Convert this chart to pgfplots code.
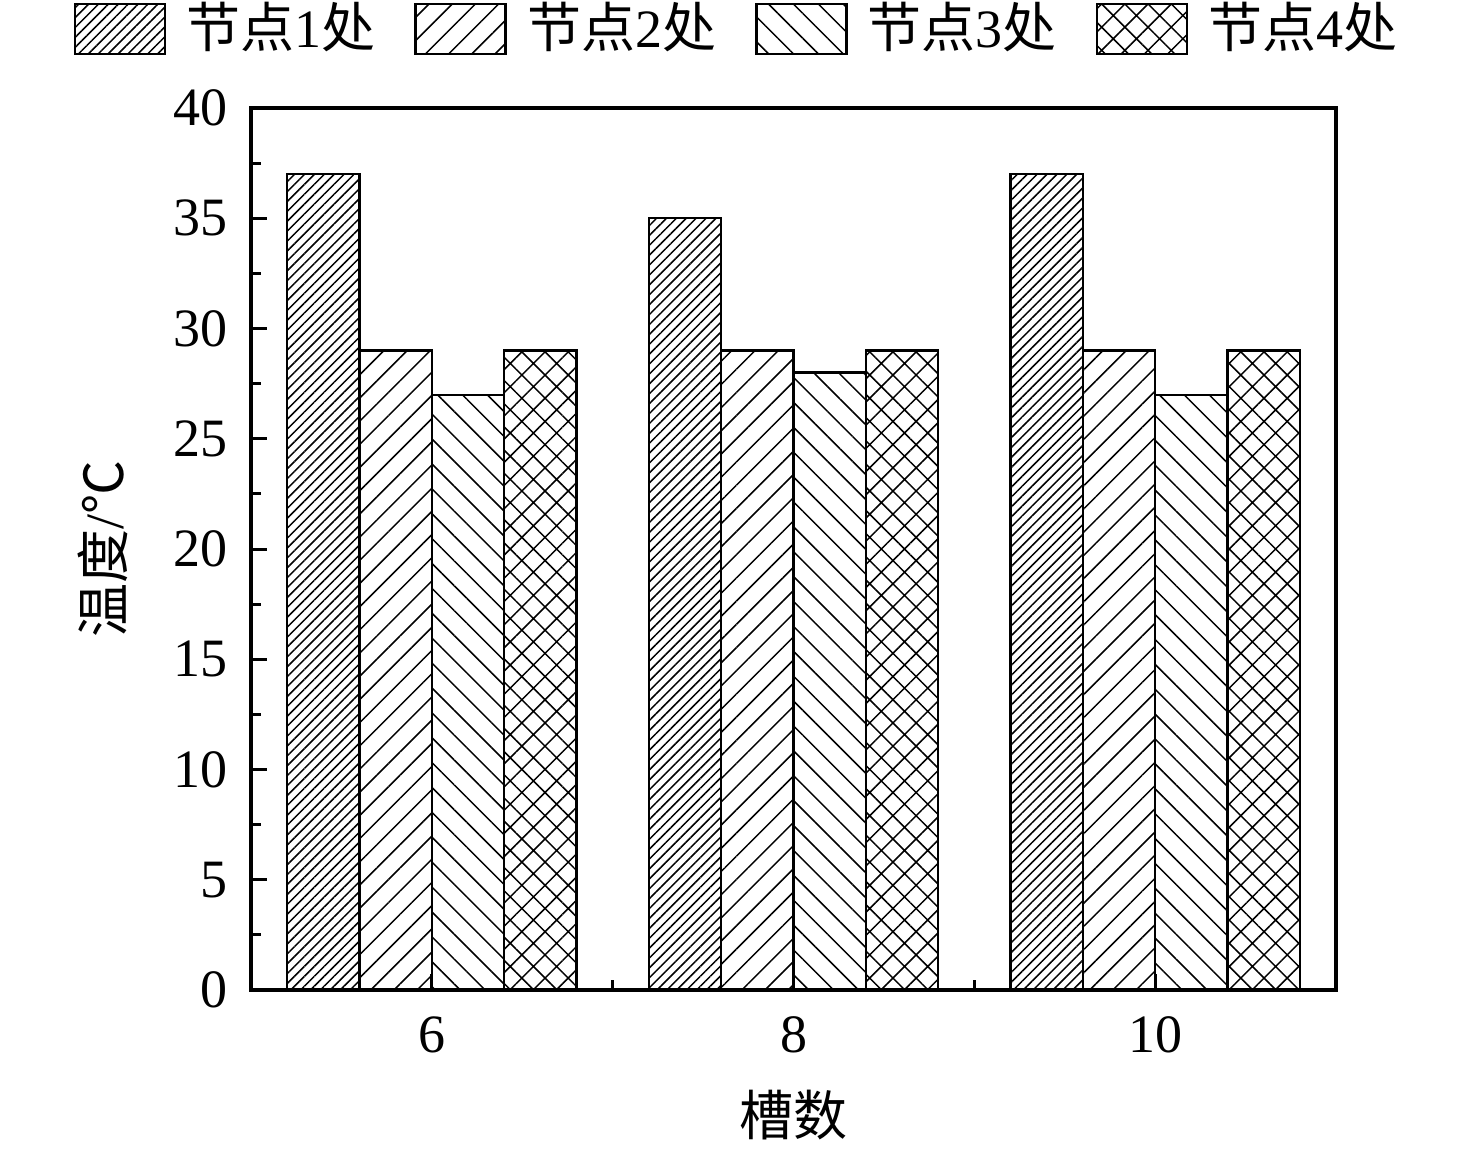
\documentclass[border=0pt]{standalone}
\usepackage{fontspec}
\setmainfont{Liberation Serif}
\newfontfamily\cjk{Noto Sans CJK SC}
\usepackage{pgfplots}
\pgfplotsset{compat=1.18}
\usetikzlibrary{patterns.meta}
\newcommand\zh[1]{{\cjk #1}}
\pgfplotsset{
  mybar/.style={ybar, bar width=0.2, draw=black, line width=1.1pt, pattern color=black,
    legend image code/.code={\draw[##1,line width=1.3pt] (0pt,-12.5pt) rectangle (45pt,12.5pt);}},
}
\begin{document}
\fontsize{27}{32}\selectfont
\begin{tikzpicture}
\useasboundingbox (0,0) rectangle (738pt,576pt);
\begin{axis}[
  at={(125.5pt,81pt)}, anchor=south west,
  scale only axis, width=542.5pt, height=441pt,
  xmin=-0.5, xmax=2.5, ymin=0, ymax=40,
  xtick={0,1,2}, xticklabels={6,8,10},
  minor xtick={0.5,1.5},
  ytick={0,5,...,40}, minor ytick={2.5,7.5,...,37.5},
  tick align=inside, xtick pos=bottom, ytick pos=left,
  major tick length=8pt, minor tick length=5pt,
  axis line style={line width=2pt},
  every tick/.style={black, line width=1.5pt},
  /pgf/number format/assume math mode=true,
  tick label style={font=\fontsize{27}{32}\selectfont},
  yticklabel style={xshift=-2.5pt},
  xticklabel style={yshift=-4pt},
  xlabel={\zh{槽数}},
  ylabel={\zh{温度}/\zh{℃}},
  label style={font=\fontsize{27}{32}\selectfont},
  xlabel style={at={(rel axis cs:0.5,-0.1417)}, anchor=center},
  ylabel style={at={(rel axis cs:-0.1364,0.5)}, anchor=center, rotate=0},
  legend columns=4,
  legend style={at={(rel axis cs:0.4484,1.0896)}, anchor=center, draw=none, fill=none,
    font=\fontsize{27}{32}\selectfont,
    /tikz/every odd column/.append style={column sep=8pt},
    /tikz/every even column/.append style={column sep=17.5pt}},
]
\addplot[mybar, bar shift=-0.3, pattern={Lines[angle=45,distance=3.5pt,line width=0.75pt]}]
  coordinates {(0,37) (1,35) (2,37)};
\addplot[mybar, bar shift=-0.1, pattern={Lines[angle=45,distance=8.2pt,line width=0.75pt]}]
  coordinates {(0,29) (1,29) (2,29)};
\addplot[mybar, bar shift=0.1, pattern={Lines[angle=-45,distance=8.8pt,line width=0.75pt]}]
  coordinates {(0,27) (1,28) (2,27)};
\addplot[mybar, bar shift=0.3, pattern={Hatch[angle=45,distance=8.2pt,line width=0.75pt]}]
  coordinates {(0,29) (1,29) (2,29)};
\legend{\zh{节点}1\zh{处},\zh{节点}2\zh{处},\zh{节点}3\zh{处},\zh{节点}4\zh{处}}
\end{axis}
\end{tikzpicture}
\end{document}
